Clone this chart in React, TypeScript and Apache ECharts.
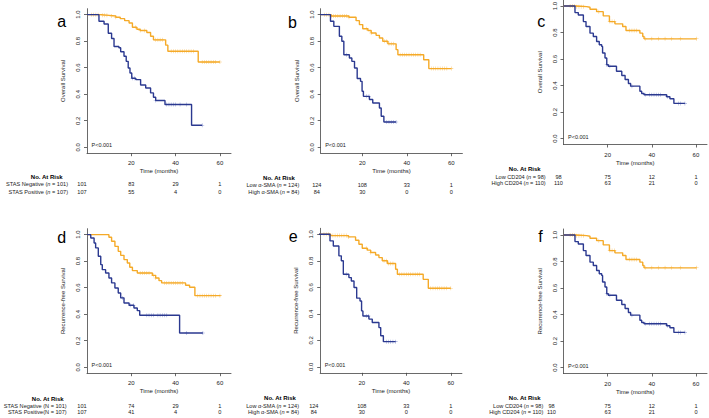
import React, { useEffect, useRef } from "react";
import * as echarts from "echarts";

// ---------- DATA ----------
const panelLetters = ["a", "b", "c", "d", "e", "f"];
const yTitles = [
  "Overall Survival",
  "Overall Survival",
  "Overall Survival",
  "Recurrence-free Survival",
  "Recurrence-free Survival",
  "Recurrence-free Survival",
];
const xTitle = "Time (months)";
const xTicks = [20, 40, 60];
const yTicks = [0, 0.2, 0.4, 0.6, 0.8, 1.0];
const riskTimes = [0, 20, 40, 60];
const riskHeader = "No. At Risk";
const pValueText = "P<0.001";

// Kaplan-Meier curves: [months, survival]
const aNegative = [[0, 1], [6.5, 0.995], [10, 0.99], [13, 0.98], [15, 0.97], [17, 0.955], [19, 0.937], [20.5, 0.905], [22.5, 0.89], [24, 0.88], [27, 0.866], [28.7, 0.837], [30, 0.81], [35.5, 0.77], [36.5, 0.724], [50.2, 0.643], [60, 0.643]];
const aPositive = [[0, 1], [5.4, 0.95], [7.7, 0.93], [9.6, 0.86], [11.1, 0.82], [12.2, 0.76], [14.4, 0.75], [15.2, 0.72], [16.7, 0.686], [17.7, 0.648], [18.6, 0.598], [19.4, 0.56], [20.2, 0.52], [22, 0.51], [24.2, 0.47], [26.5, 0.447], [28.7, 0.41], [30, 0.377], [31, 0.352], [35.2, 0.322], [47.2, 0.166], [52, 0.166]];
const bLow = [[0, 1], [6, 0.99], [14, 0.98], [17.2, 0.955], [18.7, 0.925], [20.2, 0.894], [22.5, 0.88], [24, 0.862], [26.2, 0.844], [27.7, 0.824], [29.2, 0.8], [31.5, 0.78], [35.2, 0.736], [36, 0.698], [47.6, 0.66], [49.9, 0.593], [60, 0.593]];
const bHigh = [[0, 1], [5.7, 0.95], [7.2, 0.912], [9.7, 0.837], [10.8, 0.8], [11.7, 0.698], [14.2, 0.673], [15.3, 0.648], [16.5, 0.598], [17.7, 0.518], [19.2, 0.497], [19.9, 0.422], [20.5, 0.384], [23.2, 0.36], [24.7, 0.334], [27.7, 0.296], [28.5, 0.234], [29.7, 0.19], [35.2, 0.19]];
const cLow = [[0, 1], [6, 0.995], [10.5, 0.99], [12, 0.975], [15, 0.957], [18, 0.925], [20.8, 0.882], [23.3, 0.865], [26.8, 0.845], [28.3, 0.815], [34.6, 0.795], [35.9, 0.77], [36.5, 0.752], [60.3, 0.752]];
const cHigh = [[0, 1], [5.2, 0.95], [6.7, 0.932], [9, 0.882], [10.2, 0.845], [12, 0.795], [13.5, 0.77], [15, 0.732], [16.2, 0.707], [17.3, 0.695], [17.7, 0.645], [18.8, 0.607], [19.6, 0.557], [20.3, 0.545], [24, 0.507], [26.4, 0.475], [27.9, 0.445], [29.4, 0.415], [30.4, 0.395], [34.6, 0.357], [35.4, 0.34], [36.5, 0.33], [46.7, 0.315], [48.2, 0.3], [50, 0.265], [55, 0.265]];
const dNegative = [[0, 1], [9.9, 0.98], [11.1, 0.95], [12.6, 0.912], [14.1, 0.874], [15.2, 0.844], [16.7, 0.812], [18.2, 0.786], [19.3, 0.754], [20.5, 0.729], [22.7, 0.711], [29.5, 0.693], [31, 0.673], [32.5, 0.653], [33.7, 0.636], [44.5, 0.618], [46.3, 0.603], [48.7, 0.54], [60.3, 0.54]];
const dPositive = [[0, 1], [1.7, 0.975], [3.2, 0.937], [3.9, 0.9], [5.1, 0.837], [6.2, 0.774], [6.9, 0.736], [8.4, 0.711], [9.9, 0.673], [11.1, 0.636], [12.6, 0.598], [14.1, 0.56], [15.2, 0.523], [16.7, 0.485], [19, 0.467], [21.2, 0.447], [22.7, 0.427], [23.8, 0.392], [41.8, 0.258], [52.3, 0.258]];
const eLow = bLow;
const eHigh = bHigh;
const fLow = cLow;
const fHigh = cHigh;

// censored times (months)
const aNegCensor = [2, 3, 4, 5, 7, 8, 9, 11, 13, 22, 24, 26, 31, 32, 33, 34, 38, 39, 40, 41, 42, 43, 44, 45, 46, 47, 48, 52, 53, 54, 55, 56, 57, 58, 60];
const aPosCensor = [20.5, 21.5, 31, 36, 37, 38, 39, 40, 42, 45, 52];
const bLowCensor = [3, 4, 5, 6, 7, 8, 9, 10, 11, 12, 13, 14, 22, 24, 30, 31, 32, 33, 34, 37, 38, 39, 40, 41, 42, 43, 44, 45, 46, 51, 52, 53, 54, 55, 56, 57, 58, 60];
const bHighCensor = [13, 22, 23, 31, 32, 33, 34, 35.2];
const cLowCensor = [3, 4, 5, 6, 7, 8, 9, 16, 21, 22, 23, 30, 31, 32, 33, 37, 40, 43, 46, 49, 53, 60.3];
const cHighCensor = [19.6, 21, 31, 37, 39, 40, 41, 42, 43, 44, 47, 52, 53, 55];
const dNegCensor = [24, 25, 26, 27, 28, 30, 31, 35, 36, 37, 38, 39, 40, 41, 42, 43, 50, 51, 52, 53, 54, 55, 56, 57, 58, 60];
const dPosCensor = [16, 19.5, 21, 27, 28, 29, 30, 32, 33, 34, 35, 36, 45, 52.3];

// risk tables
const aRows = ["STAS Negative ({i|n} = 101)", "STAS Positive ({i|n} = 107)"];
const bRows = ["Low α-SMA ({i|n} = 124)", "High α-SMA ({i|n} = 84)"];
const cRows = ["Low CD204 ({i|n} = 98)", "High CD204 ({i|n} = 110)"];
const dRows = ["STAS Negative (N = 101)", "STAS Positive(N = 107)"];
const aRisk1 = [101, 83, 29, 1];
const aRisk2 = [107, 55, 4, 0];
const bRisk1 = [124, 108, 33, 1];
const bRisk2 = [84, 30, 0, 0];
const cRisk1 = [98, 75, 12, 1];
const cRisk2 = [110, 63, 21, 0];
const dRisk1 = [101, 74, 29, 1];
const dRisk2 = [107, 41, 4, 0];

const panelData = [
  { good: aNegative, bad: aPositive, goodC: aNegCensor, badC: aPosCensor, rows: aRows, risk: [aRisk1, aRisk2] },
  { good: bLow, bad: bHigh, goodC: bLowCensor, badC: bHighCensor, rows: bRows, risk: [bRisk1, bRisk2] },
  { good: cLow, bad: cHigh, goodC: cLowCensor, badC: cHighCensor, rows: cRows, risk: [cRisk1, cRisk2] },
  { good: dNegative, bad: dPositive, goodC: dNegCensor, badC: dPosCensor, rows: dRows, risk: [dRisk1, dRisk2] },
  { good: eLow, bad: eHigh, goodC: bLowCensor, badC: bHighCensor, rows: bRows, risk: [bRisk1, bRisk2] },
  { good: fLow, bad: fHigh, goodC: cLowCensor, badC: cHighCensor, rows: cRows, risk: [cRisk1, cRisk2] },
];

// ---------- LAYOUT / STYLE ----------
const layout = [
  { left: 87, top: 8.7, width: 144, xMin: 0, letter: [61.7, 13.3], header: [46.7, 177.3], rowY: [184, 191.7], rowRight: 68, firstShift: -5 },
  { left: 320.7, top: 8.7, width: 141.7, xMin: 1.3, letter: [292.5, 14], header: [279, 178.3], rowY: [185, 192.3], rowRight: 299.3, firstShift: -1 },
  { left: 563.5, top: 0, width: 143.5, xMin: 0, letter: [541.3, 13.3], header: [524.7, 169.3], rowY: [176.7, 183.3], rowRight: 545.7, firstShift: -5 },
  { left: 87, top: 228.7, width: 144, xMin: 0, letter: [61.7, 229.3], header: [47.7, 399.3], rowY: [405.7, 412], rowRight: 66.7, firstShift: -5 },
  { left: 320.2, top: 228.3, width: 141.7, xMin: 1.3, letter: [293.3, 228.3], header: [280, 398.3], rowY: [406, 412.3], rowRight: 299, firstShift: -3.5 },
  { left: 563.5, top: 229, width: 143.5, xMin: 0, letter: [540.5, 228.3], header: [524.7, 398.3], rowY: [405.7, 412], rowRight: 543.3, firstShift: -12 },
];
const GRID_H = 144.5;
const X_MAX = 65;
const Y_MIN = -0.045;
const Y_MAX = 1.045;
const ORANGE = "#F5AA28";
const BLUE = "#2B3990";
const ORANGE_LIGHT = "#F7BE5C";
const BLUE_LIGHT = "#7F8FD0";
const FONT = "'Liberation Sans', Arial, Helvetica, sans-serif";
const AXIS_COLOR = "#444";
const TEXT_COLOR = "#1a1a1a";
const ROW_FONT = 5.6;
const plusSymbol =
  "path://M-0.14,-1L0.14,-1L0.14,-0.14L1,-0.14L1,0.14L0.14,0.14L0.14,1L-0.14,1L-0.14,0.14L-1,0.14L-1,-0.14L-0.14,-0.14Z";

function survivalAt(curve: number[][], t: number): number {
  let s = curve[0][1];
  for (const [ti, si] of curve) {
    if (ti <= t) s = si;
  }
  return s;
}

export default function App() {
  const ref = useRef<HTMLDivElement>(null);

  useEffect(() => {
    document.body.style.margin = "0";
    if (!ref.current) return;
    const chart = echarts.init(ref.current, undefined, { renderer: "svg" });

    const grids: any[] = [];
    const xAxes: any[] = [];
    const yAxes: any[] = [];
    const series: any[] = [];

    layout.forEach((L, i) => {
      grids.push({
        left: L.left,
        top: L.top,
        width: L.width,
        height: GRID_H,
        containLabel: false,
        outerBoundsMode: "none",
      });
      xAxes.push({
        type: "value",
        gridIndex: i,
        min: L.xMin,
        max: X_MAX,
        axisLine: { show: true, onZero: false, lineStyle: { color: AXIS_COLOR, width: 0.8 } },
        axisTick: { show: true, customValues: xTicks, length: 3, lineStyle: { color: AXIS_COLOR, width: 0.8 } },
        axisLabel: { customValues: xTicks, fontSize: 6, margin: 7, color: TEXT_COLOR, fontFamily: FONT },
        splitLine: { show: false },
        name: xTitle,
        nameLocation: "middle",
        nameGap: 15,
        nameTextStyle: { fontSize: 6, color: TEXT_COLOR, fontFamily: FONT },
      });
      yAxes.push({
        type: "value",
        gridIndex: i,
        min: Y_MIN,
        max: Y_MAX,
        axisLine: { show: true, onZero: false, lineStyle: { color: AXIS_COLOR, width: 0.8 } },
        axisTick: { show: true, customValues: yTicks, length: 3, lineStyle: { color: AXIS_COLOR, width: 0.8 } },
        axisLabel: {
          customValues: yTicks,
          rotate: 90,
          fontSize: 6,
          margin: 6,
          color: TEXT_COLOR,
          fontFamily: FONT,
          formatter: (v: number) => v.toFixed(1),
        },
        splitLine: { show: false },
        name: yTitles[i],
        nameLocation: "middle",
        nameGap: 21,
        nameTextStyle: { fontSize: 6, color: TEXT_COLOR, fontFamily: FONT },
      });
      const P = panelData[i];
      series.push({
        type: "line",
        xAxisIndex: i,
        yAxisIndex: i,
        data: P.good,
        step: "end",
        symbol: "none",
        lineStyle: { color: ORANGE, width: 1.4 },
        silent: true,
      });
      series.push({
        type: "line",
        xAxisIndex: i,
        yAxisIndex: i,
        data: P.bad,
        step: "end",
        symbol: "none",
        lineStyle: { color: BLUE, width: 1.4 },
        silent: true,
      });
      series.push({
        type: "scatter",
        xAxisIndex: i,
        yAxisIndex: i,
        data: P.goodC.map((t) => [t, survivalAt(P.good, t)]),
        symbol: plusSymbol,
        symbolSize: 4,
        itemStyle: { color: ORANGE_LIGHT },
        silent: true,
      });
      series.push({
        type: "scatter",
        xAxisIndex: i,
        yAxisIndex: i,
        data: P.badC.map((t) => [t, survivalAt(P.bad, t)]),
        symbol: plusSymbol,
        symbolSize: 4,
        itemStyle: { color: BLUE_LIGHT },
        silent: true,
      });
    });

    chart.setOption({
      animation: false,
      backgroundColor: "#ffffff",
      grid: grids,
      xAxis: xAxes,
      yAxis: yAxes,
      series,
    });

    const graphics: any[] = [];
    layout.forEach((L, i) => {
      const P = panelData[i];
      graphics.push({
        type: "text",
        x: L.letter[0],
        y: L.letter[1],
        style: {
          text: panelLetters[i],
          fontSize: 16,
          fontFamily: FONT,
          fill: "#000",
          textAlign: "center",
          textVerticalAlign: "alphabetic",
        },
      });
      const pPos = chart.convertToPixel({ gridIndex: i } as any, [L.xMin, 0.015]) as number[];
      graphics.push({
        type: "text",
        x: pPos[0] + 4.5,
        y: pPos[1],
        style: {
          text: pValueText,
          fontSize: 5.5,
          fontFamily: FONT,
          fill: TEXT_COLOR,
          textAlign: "left",
          textVerticalAlign: "middle",
        },
      });
      graphics.push({
        type: "text",
        x: L.header[0],
        y: L.header[1],
        style: {
          text: riskHeader,
          fontSize: 6,
          fontWeight: "bold",
          fontFamily: FONT,
          fill: "#000",
          textAlign: "center",
          textVerticalAlign: "middle",
        },
      });
      P.rows.forEach((row, r) => {
        graphics.push({
          type: "text",
          x: L.rowRight,
          y: L.rowY[r],
          style: {
            text: row,
            fontSize: ROW_FONT,
            fontFamily: FONT,
            fill: TEXT_COLOR,
            textAlign: "right",
            textVerticalAlign: "middle",
            rich: { i: { fontStyle: "italic", fontSize: ROW_FONT, fontFamily: FONT, fill: TEXT_COLOR } },
          },
        });
        P.risk[r].forEach((n, k) => {
          const px = chart.convertToPixel({ gridIndex: i } as any, [riskTimes[k], 0]) as number[];
          graphics.push({
            type: "text",
            x: px[0] + (k === 0 ? L.firstShift : 0),
            y: L.rowY[r],
            style: {
              text: String(n),
              fontSize: ROW_FONT,
              fontFamily: FONT,
              fill: TEXT_COLOR,
              textAlign: "center",
              textVerticalAlign: "middle",
            },
          });
        });
      });
    });

    chart.setOption({ graphic: graphics });

    return () => {
      chart.dispose();
    };
  }, []);

  return <div ref={ref} style={{ width: 709, height: 418 }} />;
}
